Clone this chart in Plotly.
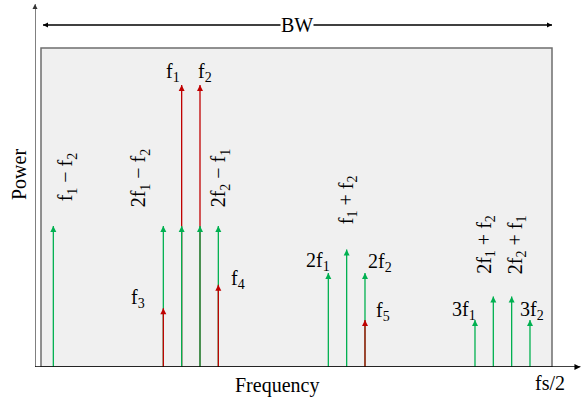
import plotly.graph_objects as go

# ---- spectrum data -------------------------------------------------------
# frequency grid index and relative power level of each spectral line

# intermodulation / harmonic products (green)
product_pos = [1, 7, 8, 9, 10, 16, 17, 18, 24, 25, 26, 27]
product_pow = [6, 6, 6, 6, 6, 4, 5, 4, 2, 3, 3, 2]
product_labels = [
    "f<sub>1</sub> − f<sub>2</sub>",
    "2f<sub>1</sub> − f<sub>2</sub>",
    "",
    "",
    "2f<sub>2</sub> − f<sub>1</sub>",
    "2f<sub>1</sub>",
    "f<sub>1</sub> + f<sub>2</sub>",
    "2f<sub>2</sub>",
    "3f<sub>1</sub>",
    "2f<sub>1</sub> + f<sub>2</sub>",
    "2f<sub>2</sub> + f<sub>1</sub>",
    "3f<sub>2</sub>",
]

# input tones (red)
tone_pos = [8, 9, 7, 10, 18]
tone_pow = [12, 12, 2.5, 3.5, 2]
tone_labels = ["f<sub>1</sub>", "f<sub>2</sub>", "f<sub>3</sub>", "f<sub>4</sub>", "f<sub>5</sub>"]

axis_labels = {"x": "Frequency", "y": "Power", "end": "fs/2", "band": "BW"}

# ---- layout constants ----------------------------------------------------
W, H = 581, 399
ML, MR, MT, MB = 35, 0, 3, 32
X_UNIT = 18.333   # px per grid step
Y_UNIT = 23.5     # px per power step
X_MAX = (W - ML - MR) / X_UNIT
Y_MAX = (H - MT - MB) / Y_UNIT

GREEN = "#00b050"
RED = "#c00000"
FONT = "Liberation Serif"
FS = 20

# label offsets (px) from each arrow tip, and whether the label is rotated
product_offsets = [(13, 49, True), (-24, 48, True), None, None, (1, 48, True),
                   (-10, 12, False), (1, 50, True), (15, 11, False),
                   (-11, 10, False), (-8, 52, True), (5, 52, True), (2, 10, False)]
tone_offsets = [(-9, 13), (5, 13), (-25, 10), (20, 5), (18, 9)]

fig = go.Figure()


def add_arrows(pos, pw, color, width=1.3, head=6):
    """Vertical spectral lines from zero up to their power, with arrow tips."""
    xs, ys = [], []
    for p, v in zip(pos, pw):
        xs += [p, p, None]
        ys += [0, v, None]
    fig.add_trace(go.Scatter(x=xs, y=ys, mode="lines",
                             line=dict(color=color, width=width),
                             hoverinfo="skip", showlegend=False, cliponaxis=False))
    fig.add_trace(go.Scatter(x=list(pos), y=list(pw), mode="markers",
                             marker=dict(symbol="arrow-up", size=head, color=color,
                                         line=dict(width=0)),
                             hoverinfo="skip", showlegend=False, cliponaxis=False))


# main tones first, products over them, then the small tones on top
add_arrows(tone_pos[:2], tone_pow[:2], RED)
add_arrows(product_pos, product_pow, GREEN)
add_arrows(tone_pos[2:], tone_pow[2:], RED)

annotations = []


def label(x, y, text, dx, dy, rotated=False):
    return dict(x=x, y=y, xref="x", yref="y", text=text, showarrow=False,
                xshift=dx, yshift=dy, xanchor="center", yanchor="middle",
                textangle=-90 if rotated else 0,
                font=dict(family=FONT, size=FS, color="black"))


for p, v, t, off in zip(product_pos, product_pow, product_labels, product_offsets):
    if t and off:
        annotations.append(label(p, v, t, off[0], off[1], off[2]))
for p, v, t, off in zip(tone_pos, tone_pow, tone_labels, tone_offsets):
    annotations.append(label(p, v, t, off[0], off[1]))

# bandwidth arrow
BW_Y = (H - MB - 25) / Y_UNIT
BOX_X0 = (41 - ML) / X_UNIT
BOX_X1 = (552 - ML) / X_UNIT
BOX_Y1 = (H - MB - 48) / Y_UNIT
BW_X0 = (43 - ML) / X_UNIT
fig.add_trace(go.Scatter(x=[BW_X0, BOX_X1], y=[BW_Y, BW_Y], mode="lines+markers",
                         line=dict(color="black", width=1.3),
                         marker=dict(symbol=["arrow-left", "arrow-right"], size=5,
                                     color="black", line=dict(width=0)),
                         hoverinfo="skip", showlegend=False, cliponaxis=False))
annotations.append(dict(x=(297 - ML) / X_UNIT, y=BW_Y, xref="x", yref="y",
                        text=axis_labels["band"], showarrow=False,
                        bgcolor="white", borderpad=0,
                        font=dict(family=FONT, size=FS, color="black")))

# coordinate axes with arrowheads
Y_TOP = (H - MB - 4) / Y_UNIT
fig.add_trace(go.Scatter(x=[0, 0], y=[0, Y_TOP], mode="lines",
                         line=dict(color="#808080", width=2),
                         hoverinfo="skip", showlegend=False, cliponaxis=False))
fig.add_trace(go.Scatter(x=[0], y=[Y_TOP], mode="markers",
                         marker=dict(symbol="arrow-up", size=5, color="#333333",
                                     line=dict(width=0)),
                         hoverinfo="skip", showlegend=False, cliponaxis=False))
X_END = X_MAX - 0.03
fig.add_trace(go.Scatter(x=[0, X_END], y=[0, 0], mode="lines",
                         line=dict(color="black", width=1.5),
                         hoverinfo="skip", showlegend=False, cliponaxis=False))
fig.add_trace(go.Scatter(x=[X_END], y=[0], mode="markers",
                         marker=dict(symbol="arrow-right", size=6, color="black",
                                     line=dict(width=0)),
                         hoverinfo="skip", showlegend=False, cliponaxis=False))

# axis titles
annotations.append(dict(x=(277 - ML) / (W - ML - MR), y=0, xref="paper", yref="paper",
                        yshift=-18, text=axis_labels["x"], showarrow=False,
                        xanchor="center", yanchor="middle",
                        font=dict(family=FONT, size=FS, color="black")))
annotations.append(dict(x=(550 - ML) / (W - ML - MR), y=0, xref="paper", yref="paper",
                        yshift=-16, text=axis_labels["end"], showarrow=False,
                        xanchor="center", yanchor="middle",
                        font=dict(family=FONT, size=FS, color="black")))
annotations.append(dict(x=0, y=(H - MB - 175) / (H - MT - MB), xref="paper", yref="paper",
                        xshift=-16, text=axis_labels["y"], showarrow=False,
                        textangle=-90, xanchor="center", yanchor="middle",
                        font=dict(family=FONT, size=FS, color="black")))

# shaded band box
shapes = [dict(type="rect", xref="x", yref="y", x0=BOX_X0, x1=BOX_X1, y0=0, y1=BOX_Y1,
               fillcolor="#f0f0f0", line=dict(color="#6e6e6e", width=1.5),
               layer="below")]

fig.update_layout(
    width=W, height=H,
    margin=dict(l=ML, r=MR, t=MT, b=MB, pad=0),
    paper_bgcolor="white", plot_bgcolor="white",
    showlegend=False,
    xaxis=dict(range=[0, X_MAX], visible=False, fixedrange=True),
    yaxis=dict(range=[0, Y_MAX], visible=False, fixedrange=True),
    annotations=annotations,
    shapes=shapes,
)

fig.write_html("out.html")
